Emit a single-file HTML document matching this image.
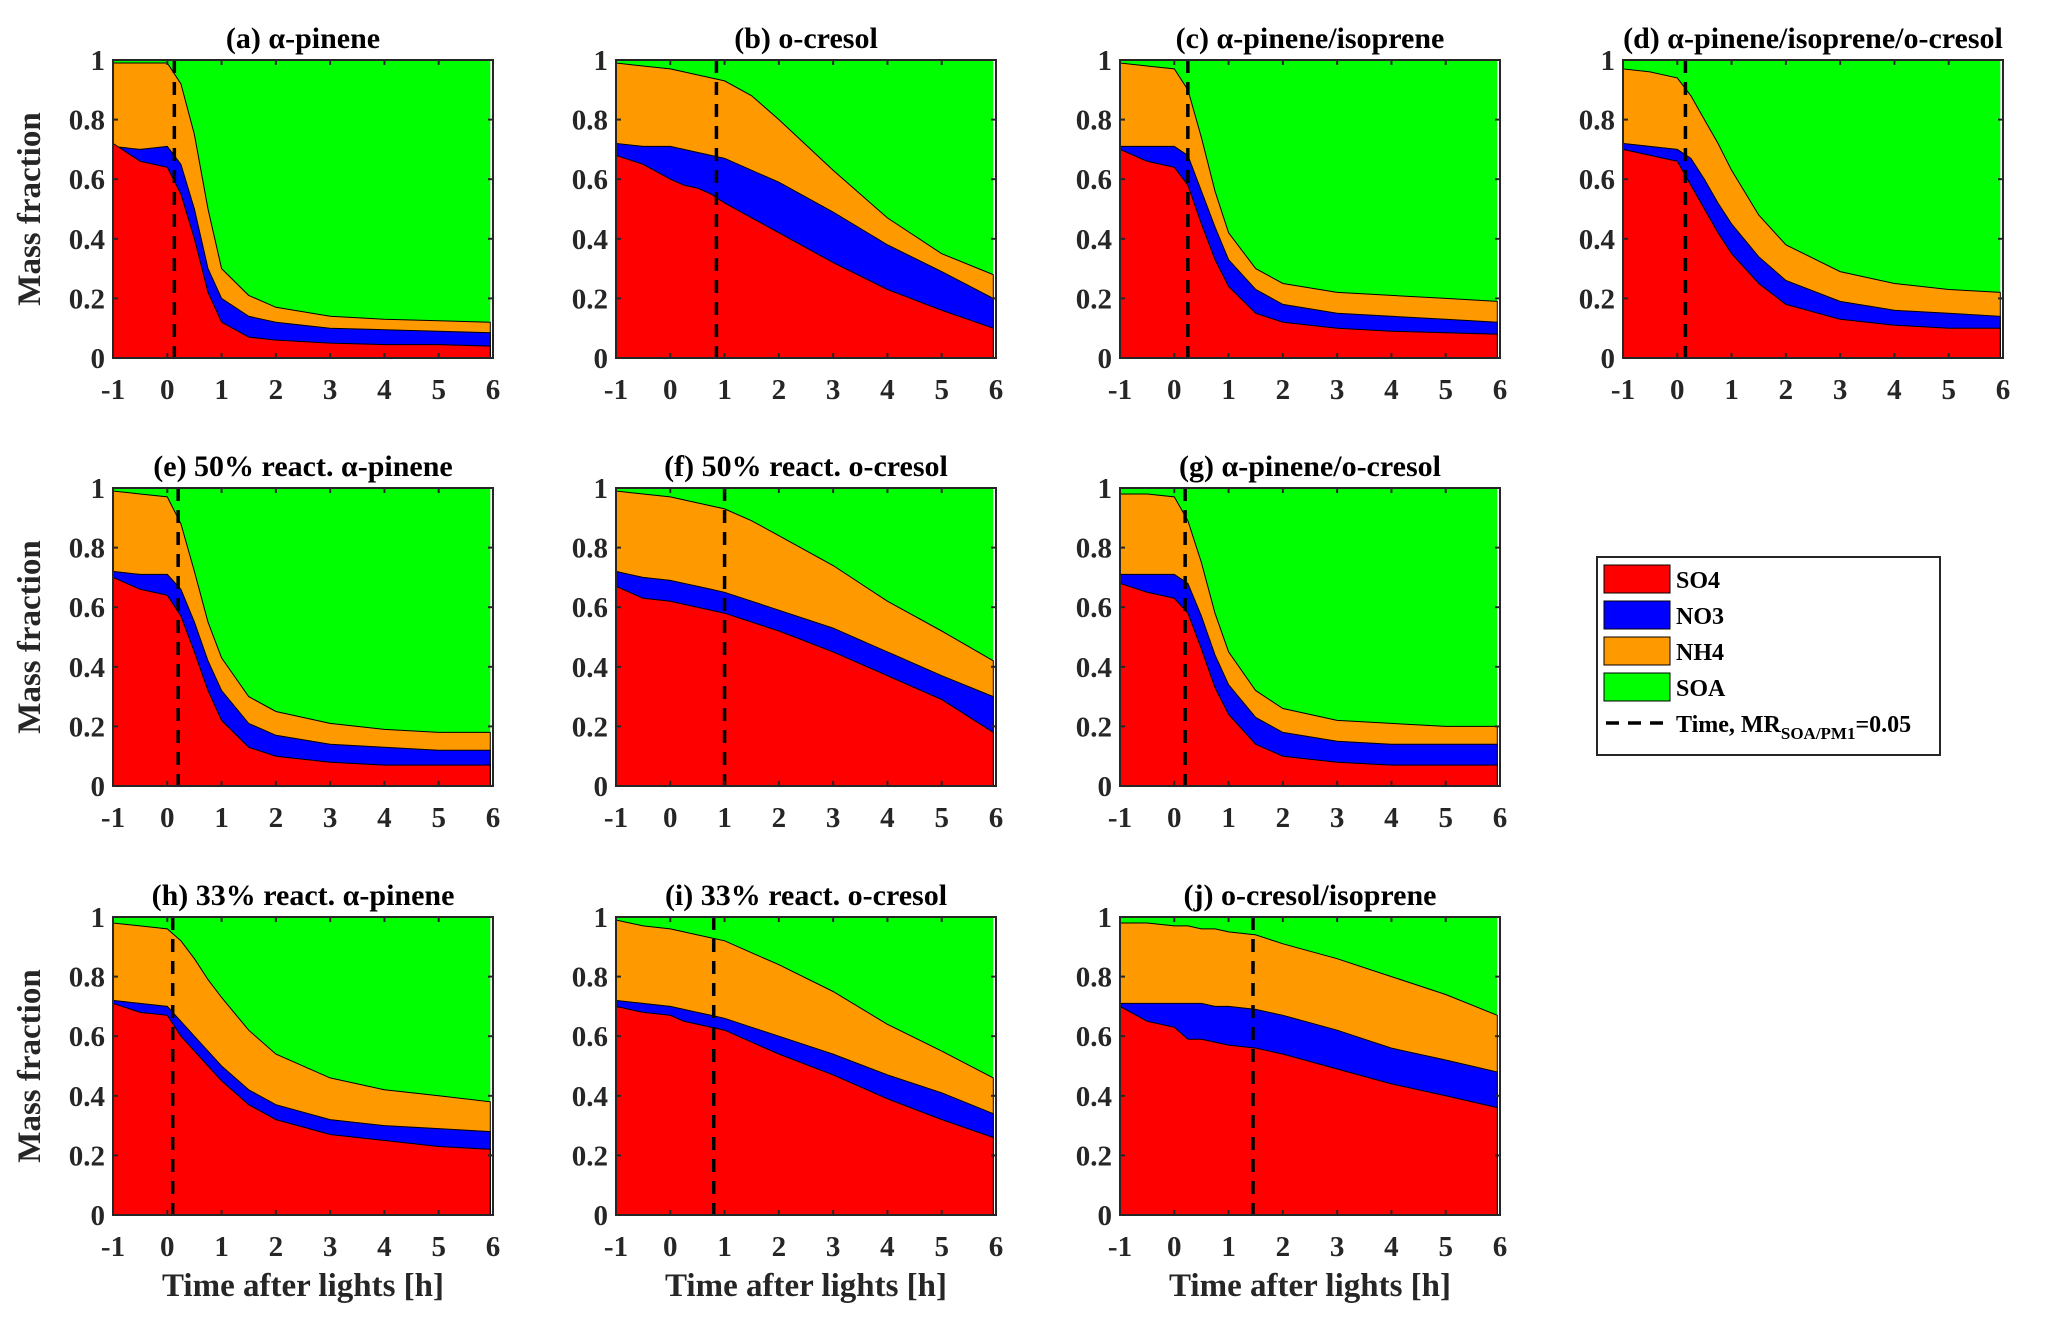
<!DOCTYPE html>
<html><head><meta charset="utf-8"><style>
html,body{margin:0;padding:0;background:#fff;}
svg{display:block;font-family:"Liberation Serif",serif;font-weight:bold;}
</style></head><body>
<svg id="fig" width="2067" height="1325" viewBox="0 0 2067 1325" xmlns="http://www.w3.org/2000/svg"></svg>
<script>
const times = [-1,-0.5,0,0.25,0.5,0.75,1,1.5,2,3,4,5,5.95];
const xTicks = [-1,0,1,2,3,4,5,6];
const yTicks = [0,0.2,0.4,0.6,0.8,1];
const yTickLabels = ["0","0.2","0.4","0.6","0.8","1"];
const titles = ["(a) α-pinene","(b) o-cresol","(c) α-pinene/isoprene","(d) α-pinene/isoprene/o-cresol","(e) 50% react. α-pinene","(f) 50% react. o-cresol","(g) α-pinene/o-cresol","(h) 33% react. α-pinene","(i) 33% react. o-cresol","(j) o-cresol/isoprene"];
const dashTimes = [0.13,0.85,0.25,0.15,0.2,1.0,0.2,0.1,0.8,1.45];
const so4 = [
[0.72,0.66,0.64,0.55,0.40,0.22,0.12,0.07,0.06,0.05,0.045,0.045,0.04],
[0.68,0.65,0.60,0.58,0.57,0.55,0.52,0.47,0.42,0.32,0.23,0.16,0.10],
[0.70,0.66,0.64,0.58,0.45,0.33,0.24,0.15,0.12,0.10,0.09,0.085,0.08],
[0.70,0.68,0.66,0.58,0.50,0.42,0.35,0.25,0.18,0.13,0.11,0.10,0.10],
[0.70,0.66,0.64,0.57,0.45,0.32,0.22,0.13,0.10,0.08,0.07,0.07,0.07],
[0.67,0.63,0.62,0.61,0.60,0.59,0.58,0.55,0.52,0.45,0.37,0.29,0.18],
[0.68,0.65,0.63,0.58,0.46,0.33,0.24,0.14,0.10,0.08,0.07,0.07,0.07],
[0.71,0.68,0.67,0.60,0.55,0.50,0.45,0.37,0.32,0.27,0.25,0.23,0.22],
[0.70,0.68,0.67,0.65,0.64,0.63,0.62,0.58,0.54,0.47,0.39,0.32,0.26],
[0.70,0.65,0.63,0.59,0.59,0.58,0.57,0.56,0.54,0.49,0.44,0.40,0.36]];
const no3Top = [
[0.71,0.70,0.71,0.65,0.50,0.30,0.20,0.14,0.12,0.10,0.095,0.09,0.085],
[0.72,0.71,0.71,0.70,0.69,0.68,0.67,0.63,0.59,0.49,0.38,0.29,0.20],
[0.71,0.71,0.71,0.68,0.56,0.44,0.33,0.23,0.18,0.15,0.14,0.13,0.12],
[0.72,0.71,0.70,0.67,0.60,0.52,0.45,0.34,0.26,0.19,0.16,0.15,0.14],
[0.72,0.71,0.71,0.66,0.55,0.42,0.32,0.21,0.17,0.14,0.13,0.12,0.12],
[0.72,0.70,0.69,0.68,0.67,0.66,0.65,0.62,0.59,0.53,0.45,0.37,0.30],
[0.71,0.71,0.71,0.68,0.57,0.44,0.34,0.23,0.18,0.15,0.14,0.14,0.14],
[0.72,0.71,0.70,0.65,0.60,0.55,0.50,0.42,0.37,0.32,0.30,0.29,0.28],
[0.72,0.71,0.70,0.69,0.68,0.67,0.66,0.63,0.60,0.54,0.47,0.41,0.34],
[0.71,0.71,0.71,0.71,0.71,0.70,0.70,0.69,0.67,0.62,0.56,0.52,0.48]];
const nh4Top = [
[0.99,0.99,0.99,0.92,0.75,0.50,0.30,0.21,0.17,0.14,0.13,0.125,0.12],
[0.99,0.98,0.97,0.96,0.95,0.94,0.93,0.88,0.80,0.63,0.47,0.35,0.28],
[0.99,0.98,0.97,0.90,0.74,0.56,0.42,0.30,0.25,0.22,0.21,0.20,0.19],
[0.97,0.96,0.94,0.88,0.80,0.72,0.63,0.48,0.38,0.29,0.25,0.23,0.22],
[0.99,0.98,0.97,0.88,0.72,0.55,0.43,0.30,0.25,0.21,0.19,0.18,0.18],
[0.99,0.98,0.97,0.96,0.95,0.94,0.93,0.89,0.84,0.74,0.62,0.52,0.42],
[0.98,0.98,0.97,0.89,0.75,0.58,0.45,0.32,0.26,0.22,0.21,0.20,0.20],
[0.98,0.97,0.96,0.92,0.86,0.79,0.73,0.62,0.54,0.46,0.42,0.40,0.38],
[0.99,0.97,0.96,0.95,0.94,0.93,0.92,0.88,0.84,0.75,0.64,0.55,0.46],
[0.98,0.98,0.97,0.97,0.96,0.96,0.95,0.94,0.91,0.86,0.80,0.74,0.67]];

const NS="http://www.w3.org/2000/svg";
const svg=document.getElementById('fig');
function mk(tag,attrs,parent){const e=document.createElementNS(NS,tag);for(const k in attrs)e.setAttribute(k,attrs[k]);(parent||svg).appendChild(e);return e;}
const colX=[113,616,1120,1623], rowY=[60,488,917], W=380, H=298;
const layout=[[0,0],[0,1],[0,2],[0,3],[1,0],[1,1],[1,2],[2,0],[2,1],[2,2]];
layout.forEach(([r,c],p)=>{
  const x0=colX[c], y0=rowY[r];
  const xs=t=>x0+(t+1)/7*W, ys=v=>y0+H-v*H;
  const g=mk('g',{});
  
  
  const bg=mk('rect',{x:xs(times[0]),y:y0,width:xs(times[times.length-1])-xs(times[0]),height:H,fill:'#00ff00'},g);
  
  
  const layers=[[nh4Top[p],'#ff9900','nh4-area'],[no3Top[p],'#0000ff','no3-area'],[so4[p],'#ff0000','so4-area']];
  layers.forEach(([arr,col,nm])=>{
    let d='M'+xs(times[0])+','+ys(0);
    arr.forEach((v,i)=>{d+=' L'+xs(times[i]).toFixed(1)+','+ys(v).toFixed(1);});
    d+=' L'+xs(times[times.length-1])+','+ys(0)+' Z';
    const a=mk('path',{d:d,fill:col,stroke:'#000','stroke-width':1},g);
    
    
  });
  const dl=mk('line',{x1:xs(dashTimes[p]),x2:xs(dashTimes[p]),y1:y0,y2:y0+H,stroke:'#000','stroke-width':3.5,'stroke-dasharray':'13,9'},g);
  
  
  const box=mk('rect',{x:x0,y:y0,width:W,height:H,fill:'none',stroke:'#262626','stroke-width':2},g);
  
  
  xTicks.forEach(t=>{
    mk('line',{x1:xs(t),x2:xs(t),y1:y0+H,y2:y0+H-5,stroke:'#262626','stroke-width':2},g);
    mk('line',{x1:xs(t),x2:xs(t),y1:y0,y2:y0+5,stroke:'#262626','stroke-width':2},g);
    const tl=mk('text',{x:xs(t),y:y0+H+41,'text-anchor':'middle','font-size':29,fill:'#262626'},g);
    tl.textContent=String(t);
    
    
  });
  yTicks.forEach((v,i)=>{
    mk('line',{x1:x0,x2:x0+5,y1:ys(v),y2:ys(v),stroke:'#262626','stroke-width':2},g);
    mk('line',{x1:x0+W,x2:x0+W-5,y1:ys(v),y2:ys(v),stroke:'#262626','stroke-width':2},g);
    const tl=mk('text',{x:x0-8,y:ys(v)+10,'text-anchor':'end','font-size':29,fill:'#262626'},g);
    tl.textContent=yTickLabels[i];
    
    
  });
  const ti=mk('text',{x:x0+W/2,y:y0-12,'text-anchor':'middle','font-size':30,fill:'#000'},g);
  ti.textContent=titles[p];
  
  
  if(c===0){
    const yl=mk('text',{x:0,y:0,transform:'translate(40,'+(y0+H/2)+') rotate(-90)','text-anchor':'middle','font-size':33,fill:'#262626'},g);
    yl.textContent='Mass fraction';
    
    
  }
  if(r===2){
    const xl=mk('text',{x:x0+W/2,y:1296,'text-anchor':'middle','font-size':33,fill:'#262626'},g);
    xl.textContent='Time after lights [h]';
    
    
  }
});
const lg=mk('g',{});


mk('rect',{x:1597,y:557,width:343,height:198,fill:'#fff',stroke:'#262626','stroke-width':2},lg);
const legNames=['SO4','NO3','NH4','SOA'];
const legCols=['#ff0000','#0000ff','#ff9900','#00ff00'];
legNames.forEach((n,i)=>{
  const cy=579+i*36;
  const sw=mk('rect',{x:1604,y:cy-14,width:66,height:28,fill:legCols[i],stroke:'#000','stroke-width':1},lg);
  
  
  const t=mk('text',{x:1676,y:cy+9,'font-size':24,fill:'#000'},lg);
  t.textContent=n;
  
  
});
const ly=579+4*36;
mk('line',{x1:1606,x2:1668,y1:ly,y2:ly,stroke:'#000','stroke-width':3.5,'stroke-dasharray':'13,9'},lg);
const lt=mk('text',{x:1676,y:ly+9,'font-size':24,fill:'#000'},lg);


lt.innerHTML='Time, MR<tspan font-size="17" dy="7">SOA/PM1</tspan><tspan dy="-7">=0.05</tspan>';
</script>
</body></html>
